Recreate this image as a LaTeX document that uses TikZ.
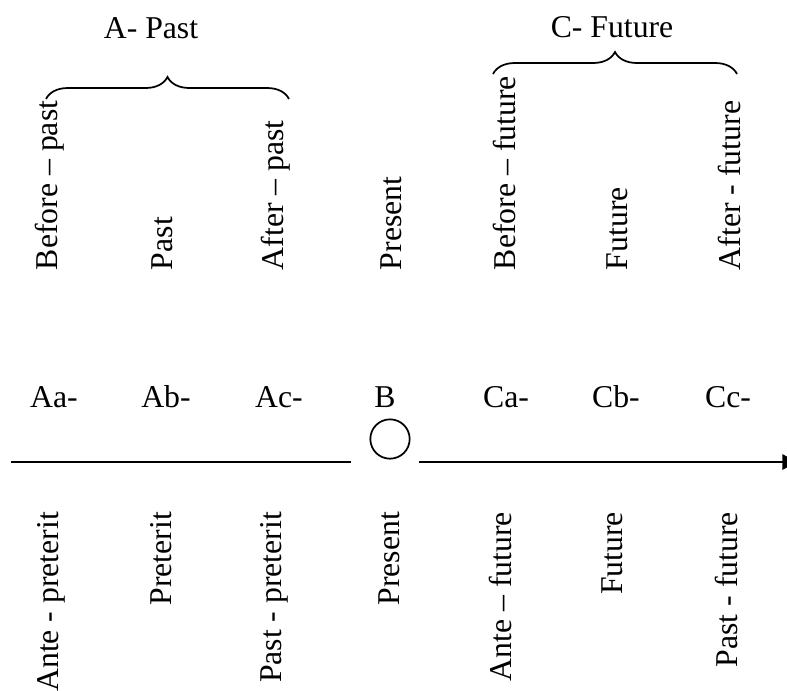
\documentclass[tikz,border=0pt]{standalone}
\usepackage{fontspec}
\setmainfont{Liberation Serif}
\usetikzlibrary{arrows.meta,decorations.pathreplacing}
\begin{document}
\begin{tikzpicture}[x=0.75pt,y=-0.75pt,
  every node/.style={inner sep=0pt,outer sep=0pt,font=\fontsize{23.8}{28}\selectfont},
  uplabel/.style={rotate=90,anchor=west},
  downlabel/.style={rotate=90,anchor=east},
  midlabel/.style={anchor=base},
  title/.style={anchor=base},
  bracestyle/.style={line width=1.3pt,decorate,decoration={brace,amplitude=16.5pt}},
  axis/.style={line width=1.6pt}]
\useasboundingbox (0,0) rectangle (787,690);
% titles
\node[title] (tA) at (151,38) {A- Past};
\node[title] (tC) at (612,37) {C- Future};
% top row
\node[uplabel] (u1) at (50,270) {Before – past};
\node[uplabel] (u2) at (162,270) {Past};
\node[uplabel] (u3) at (276,270) {After – past};
\node[uplabel] (u4) at (391,270) {Present};
\node[uplabel] (u5) at (504,270) {Before – future};
\node[uplabel] (u6) at (617,270) {Future};
\node[uplabel] (u7) at (729,270) {After - future};
% braces
\coordinate (ba1) at (46,99);
\coordinate (ba2) at (289,99);
\coordinate (bc1) at (493,74);
\coordinate (bc2) at (737,74);
\draw[bracestyle] (ba1) -- (ba2);
\draw[bracestyle] (bc1) -- (bc2);
% middle labels
\node[midlabel] (m1) at (54,407) {Aa-};
\node[midlabel] (m2) at (166,407) {Ab-};
\node[midlabel] (m3) at (279,407) {Ac-};
\node[midlabel] (m4) at (385,407) {B};
\node[midlabel] (m5) at (506,407) {Ca-};
\node[midlabel] (m6) at (616,407) {Cb-};
\node[midlabel] (m7) at (728,407) {Cc-};
% axis
\node[draw,circle,line width=1.3pt,minimum size=29.5pt] (pres) at (390,439) {};
\coordinate (L0) at (11,462);
\coordinate (L1) at (351,462);
\coordinate (R0) at (419,462);
\coordinate (R1) at (797,462);
\draw[axis] (L0) -- (L1);
\draw[axis,-{Triangle[length=11pt,width=11.5pt]}] (R0) -- (R1);
% bottom row
\node[downlabel] (d1) at (51,512) {Ante - preterit};
\node[downlabel] (d2) at (161,512) {Preterit};
\node[downlabel] (d3) at (274,512) {Past - preterit};
\node[downlabel] (d4) at (389,512) {Present};
\node[downlabel] (d5) at (500,512) {Ante – future};
\node[downlabel] (d6) at (612,512) {Future};
\node[downlabel] (d7) at (726,512) {Past - future};
\end{tikzpicture}
\end{document}
